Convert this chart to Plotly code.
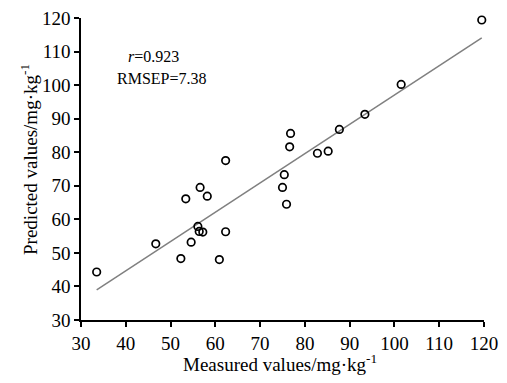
import plotly.graph_objects as go

measured = [33.5, 46.7, 52.3, 53.4, 54.6, 56.1, 56.6, 56.4, 57.2, 58.2, 60.9, 62.3, 62.3,
            75.0, 75.4, 75.9, 76.6, 76.8, 82.8, 85.2, 87.7, 93.4, 101.5, 119.5]
predicted = [44.3, 52.7, 48.3, 66.1, 53.2, 57.9, 69.5, 56.4, 56.2, 66.9, 48.0, 77.5, 56.3,
             69.5, 73.3, 64.5, 81.6, 85.6, 79.7, 80.3, 86.8, 91.3, 100.2, 119.4]
fit_x = [33.5, 119.5]
fit_y = [39.0, 114.1]
tick_vals = [30, 40, 50, 60, 70, 80, 90, 100, 110, 120]

font_family = "Liberation Serif, Times New Roman, serif"

fig = go.Figure()
fig.add_trace(go.Scatter(x=fit_x, y=fit_y, mode="lines",
                         line=dict(color="#808080", width=1.5), showlegend=False))
fig.add_trace(go.Scatter(x=measured, y=predicted, mode="markers", cliponaxis=False,
                         marker=dict(symbol="circle-open", size=7.5, color="black",
                                     line=dict(width=1.7, color="black")),
                         showlegend=False))

fig.add_annotation(x=0.179, y=0.871, xref="paper", yref="paper", showarrow=False,
                   xanchor="center", yanchor="middle",
                   text="<i>r</i>=0.923", font=dict(family=font_family, size=16, color="black"))
fig.add_annotation(x=0.2, y=0.801, xref="paper", yref="paper", showarrow=False,
                   xanchor="center", yanchor="middle",
                   text="RMSEP=7.38", font=dict(family=font_family, size=16, color="black"))
fig.add_annotation(x=-0.129, y=0.53, xref="paper", yref="paper", showarrow=False,
                   xanchor="center", yanchor="middle", textangle=-90,
                   text="Predicted values/mg·kg<sup>-1</sup>",
                   font=dict(family=font_family, size=19, color="black"))
fig.add_annotation(x=0.494, y=-0.142, xref="paper", yref="paper", showarrow=False,
                   xanchor="center", yanchor="middle",
                   text="Measured values/mg·kg<sup>-1</sup>",
                   font=dict(family=font_family, size=19, color="black"))

axis_common = dict(showgrid=False, zeroline=False, showline=True, linecolor="black",
                   linewidth=1.5, ticks="outside", ticklen=5, tickwidth=1.5, tickcolor="black",
                   tickvals=tick_vals, range=[30, 120], ticklabeloverflow="allow",
                   automargin=False,
                   tickfont=dict(family=font_family, size=19, color="black"))

fig.update_layout(
    width=507, height=383,
    margin=dict(l=73, r=31, t=10, b=71),
    paper_bgcolor="white", plot_bgcolor="white",
    xaxis=dict(**axis_common),
    yaxis=dict(**axis_common),
)

fig.write_html("out.html")
